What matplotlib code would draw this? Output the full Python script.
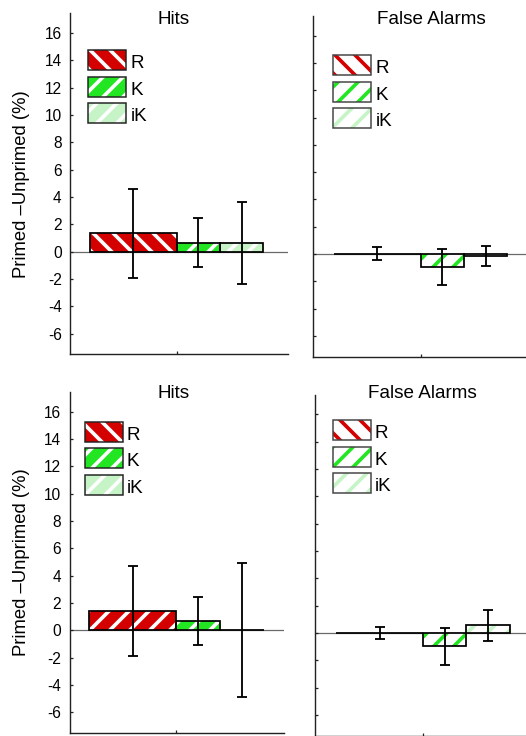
import matplotlib
matplotlib.use("Agg")
import matplotlib.pyplot as plt
from matplotlib.patches import Rectangle

plt.rcParams['font.family'] = ['Liberation Sans', 'DejaVu Sans']
plt.rcParams['axes.unicode_minus'] = False
plt.rcParams['hatch.linewidth'] = 2.2

# ---------------- data ----------------
categories = ['R', 'K', 'iK']
panel_titles = ['Hits', 'False Alarms', 'Hits', 'False Alarms']
ylabel_text = 'Primed \u2013Unprimed (%)'

# top row
hits_top_vals = [1.35, 0.66, 0.62]
hits_top_err = [3.26, 1.78, 3.0]
fa_top_vals = [0.02, -0.97, -0.15]
fa_top_err = [0.47, 1.32, 0.75]
# bottom row
hits_bot_vals = [1.40, 0.67, 0.0]
hits_bot_err = [3.27, 1.77, 4.88]
fa_bot_vals = [0.0, -0.97, 0.55]
fa_bot_err = [0.46, 1.35, 1.12]

ytick_vals = list(range(-6, 17, 2))

# ---------------- style / layout ----------------
RED = '#d40000'
GREEN = '#22e622'
LIGHT = '#c6f4c6'
colors = [RED, GREEN, LIGHT]

bar_left = [0.0, 2.0, 3.0]
bar_width = [2.0, 1.0, 1.0]

W, H = 526, 736
DPI = 120
fig = plt.figure(figsize=(W / DPI, H / DPI), dpi=DPI)


def fx(px):
    return px / W


def fy(py):
    return 1 - py / H


def make_ax(left, right, top, bottom):
    return fig.add_axes([fx(left), fy(bottom), (right - left) / W, (bottom - top) / H])


YLIM = (-7.5, 17.45)


def style_ax(ax, xlim, labels):
    ax.set_xlim(*xlim)
    ax.set_ylim(*YLIM)
    for s in ['top', 'right']:
        ax.spines[s].set_visible(False)
    for s in ['left', 'bottom']:
        ax.spines[s].set_linewidth(0.85)
        ax.spines[s].set_color('#222222')
    ax.set_yticks(ytick_vals)
    if labels:
        ax.set_yticklabels([str(v) for v in ytick_vals])
    else:
        ax.set_yticklabels([])
    ax.set_xticks([2])
    ax.set_xticklabels([])
    ax.tick_params(direction='in', length=2, width=0.75, pad=5, labelsize=9.3,
                   color='#222222')
    ax.axhline(0, color='#6a6a6a', lw=0.75, zorder=0.5)


def draw_bars(ax, vals, errs, hatches, filled):
    for i in range(len(vals)):
        if filled:
            fc, hc = colors[i], 'white'
        else:
            fc, hc = 'white', colors[i]
        ax.bar(bar_left[i], vals[i], width=bar_width[i], align='edge',
               color=fc, edgecolor=hc, linewidth=0, hatch=hatches[i], zorder=2)
        ax.bar(bar_left[i], vals[i], width=bar_width[i], align='edge',
               fill=False, edgecolor='black', linewidth=1.05, zorder=3)
    centers = [bar_left[i] + bar_width[i] / 2 for i in range(len(vals))]
    ax.errorbar(centers, vals, yerr=errs, fmt='none', ecolor='black',
                elinewidth=1.1, capsize=2.8, capthick=1.1, zorder=5)


def draw_legend(left, top, filled, edge):
    pitch = 26.6
    for i, lab in enumerate(categories):
        t = top + i * pitch
        hatch = '\\\\' if i == 0 else '//'
        if filled:
            fc, hc = colors[i], 'white'
        else:
            fc, hc = 'white', colors[i]
        fig.add_artist(Rectangle((fx(left), fy(t + 20)), 38 / W, 20 / H,
                                 transform=fig.transFigure, facecolor=fc,
                                 edgecolor=hc, linewidth=0, hatch=hatch))
        fig.add_artist(Rectangle((fx(left), fy(t + 20)), 38 / W, 20 / H,
                                 transform=fig.transFigure, fill=False,
                                 edgecolor=edge, linewidth=0.9))
        fig.text(fx(left + 42), fy(t + 18), lab, fontsize=11.3,
                 ha='left', va='baseline')


# ---------------- top row ----------------
ax1 = make_ax(70, 288, 13.3, 354)
style_ax(ax1, (-0.46, 4.57), True)
draw_bars(ax1, hits_top_vals, hits_top_err, ['\\\\', '//', '//'], True)

ax2 = make_ax(313.3, 531.3, 15.8, 356.5)
style_ax(ax2, (-0.48, 4.55), False)
draw_bars(ax2, fa_top_vals, fa_top_err, ['\\\\', '//', '//'], False)

# ---------------- bottom row ----------------
ax3 = make_ax(69.5, 284, 391.7, 732.7)
style_ax(ax3, (-0.45, 4.47), True)
draw_bars(ax3, hits_bot_vals, hits_bot_err, ['//', '//', '//'], True)

ax4 = make_ax(315, 533, 394.5, 735.5)
style_ax(ax4, (-0.49, 4.54), False)
draw_bars(ax4, fa_bot_vals, fa_bot_err, ['\\\\', '//', '//'], False)

# titles
fig.text(fx(174), fy(24), panel_titles[0], fontsize=11.3, ha='center', va='baseline')
fig.text(fx(431), fy(24), panel_titles[1], fontsize=11.3, ha='center', va='baseline')
fig.text(fx(173.5), fy(397.7), panel_titles[2], fontsize=11.3, ha='center', va='baseline')
fig.text(fx(422), fy(398.3), panel_titles[3], fontsize=11.3, ha='center', va='baseline')

# y labels
fig.text(fx(22), fy(183.7), ylabel_text, fontsize=11.1, rotation=90, ha='center', va='center')
fig.text(fx(22), fy(562), ylabel_text, fontsize=11.1, rotation=90, ha='center', va='center')

# legends
draw_legend(88.3, 50, True, '#222222')
draw_legend(333.3, 55, False, '#444444')
draw_legend(85, 421.7, True, '#222222')
draw_legend(332.7, 420, False, '#444444')

fig.savefig('out.png', dpi=DPI)
